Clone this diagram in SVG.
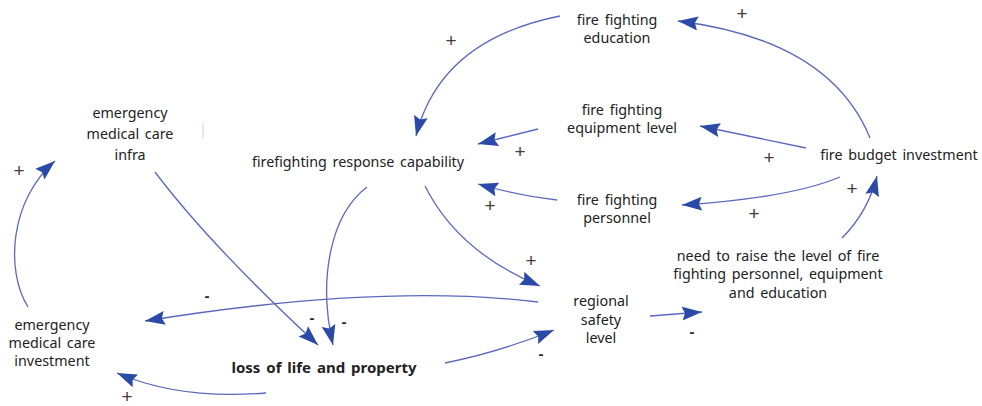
<svg xmlns="http://www.w3.org/2000/svg" width="982" height="406" viewBox="0 0 982 406">
<defs>
<marker id="ah" markerUnits="userSpaceOnUse" markerWidth="22" markerHeight="16" refX="20" refY="8" orient="auto">
<path d="M0,1 L20,8 L0,15 L3,8 z" fill="#2b4aa8"/>
</marker>
<style>
.lbl{font-family:"Noto Sans","Open Sans",sans-serif;font-size:14.3px;fill:#222;text-anchor:middle;word-spacing:2px}
.b{font-weight:bold;font-size:15px}
.pol{font-family:"Liberation Sans",sans-serif;font-size:19px;fill:#4a3a3a;text-anchor:middle}
.neg{font-family:"Liberation Sans",sans-serif;font-size:15px;font-weight:bold;fill:#222;text-anchor:middle}
.c path{fill:none;stroke:#5b68c0;stroke-width:1.3;marker-end:url(#ah)}
</style>
</defs>
<rect width="982" height="406" fill="#fff"/>
<g class="c" id="connectors">
<path d="M870,138 Q830,40 678,21"/>
<path d="M806,148 L700,126"/>
<path d="M840,177 Q790,198 682,205"/>
<path d="M842,238 Q868,212 877,176"/>
<path d="M560,16 Q440,40 416,136"/>
<path d="M538,129 L478,144"/>
<path d="M557,200 Q520,196 478,184"/>
<path d="M425,186 Q458,252 540,286"/>
<path d="M367,187 C330,215 318,280 333,345"/>
<path d="M155,172 Q210,245 318,345"/>
<path d="M538,302 Q380,283 145,321"/>
<path d="M445,363 Q500,352 554,330"/>
<path d="M266,393 Q180,400 117,373"/>
<path d="M28,307 C5,270 10,200 55,161"/>
<path d="M650,316 L702,312"/>
</g>
<g id="polarities">
<text class="pol" x="742" y="20">+</text>
<text class="pol" x="769" y="164">+</text>
<text class="pol" x="754" y="220">+</text>
<text class="pol" x="852" y="195">+</text>
<text class="pol" x="451" y="47">+</text>
<text class="pol" x="520" y="158">+</text>
<text class="pol" x="490" y="212">+</text>
<text class="pol" x="531" y="267">+</text>
<text class="pol" x="127" y="403">+</text>
<text class="pol" x="19" y="177">+</text>
<text class="neg" x="207" y="301">-</text>
<text class="neg" x="312" y="323">-</text>
<text class="neg" x="344" y="327">-</text>
<text class="neg" x="541" y="359">-</text>
<text class="neg" x="692" y="337">-</text>
</g>
<g id="n-infra"><text class="lbl" x="130" y="118">emergency</text><text class="lbl" x="130" y="139">medical care</text><text class="lbl" x="130" y="160">infra</text></g>
<line x1="203" y1="123" x2="203" y2="138" stroke="#bcd4f0" stroke-width="1"/>
<g id="n-capability"><text class="lbl" x="358" y="167">firefighting response capability</text></g>
<g id="n-education"><text class="lbl" x="617" y="25">fire fighting</text><text class="lbl" x="617" y="43">education</text></g>
<g id="n-equipment"><text class="lbl" x="622" y="115">fire fighting</text><text class="lbl" x="622" y="133">equipment level</text></g>
<g id="n-personnel"><text class="lbl" x="617" y="205">fire fighting</text><text class="lbl" x="617" y="223">personnel</text></g>
<g id="n-budget"><text class="lbl" x="899" y="160">fire budget investment</text></g>
<g id="n-need"><text class="lbl" x="778" y="261">need to raise the level of fire</text><text class="lbl" x="778" y="279">fighting personnel, equipment</text><text class="lbl" x="778" y="298">and education</text></g>
<g id="n-safety"><text class="lbl" x="601" y="306">regional</text><text class="lbl" x="601" y="325">safety</text><text class="lbl" x="601" y="343">level</text></g>
<g id="n-loss"><text class="lbl b" x="324" y="373">loss of life and property</text></g>
<g id="n-medinv"><text class="lbl" x="52" y="330">emergency</text><text class="lbl" x="52" y="348">medical care</text><text class="lbl" x="52" y="366">investment</text></g>
</svg>
